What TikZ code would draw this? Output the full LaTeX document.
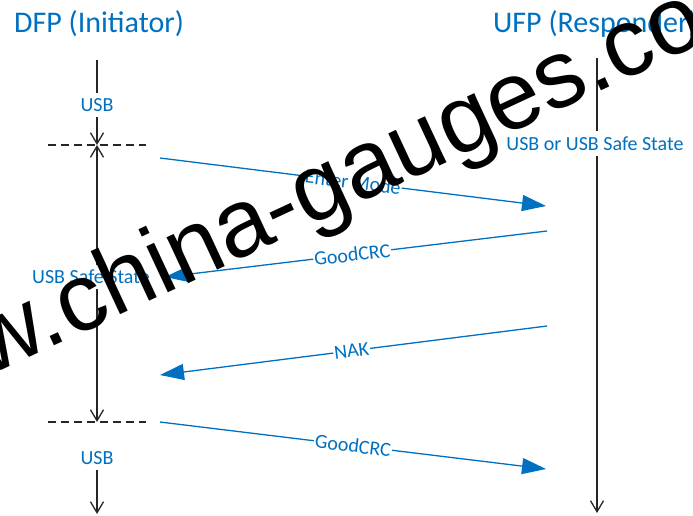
\documentclass[tikz,border=0pt]{standalone}
\usepackage{fontspec}
\setmainfont{Carlito}
\newfontfamily\wmfont{Liberation Sans}
\usepackage{xcolor}
\definecolor{msgblue}{HTML}{0070C0}
\usepackage{tikz}
\usetikzlibrary{positioning,arrows.meta}

\begin{document}
\begin{tikzpicture}[x=1pt, y=-1pt,
    title/.style={font=\fontsize{30}{36}\selectfont, text=msgblue, inner sep=0pt},
    state/.style={font=\fontsize{20}{24}\selectfont, text=msgblue, fill=white, inner xsep=1pt, inner ysep=5pt},
    lifeline/.style={draw=black!85, line width=1.3pt},
    barb/.style={-{Straight Barb[length=11pt, width=13pt]}},
    twobarb/.style={{Straight Barb[length=11pt, width=13pt]}-{Straight Barb[length=11pt, width=13pt]}},
    sep/.style={draw=black!85, line width=1.1pt, dash pattern=on 8pt off 5pt},
    msg/.style={draw=msgblue, line width=1.3pt, -{Triangle[length=24pt, width=16pt]}},
    msglabel/.style={font=\fontsize{20}{24}\selectfont, text=msgblue, fill=white, sloped, inner xsep=1pt, inner ysep=0pt},
    watermark/.style={font=\wmfont\fontsize{96}{100}\selectfont, text=black, inner sep=0pt}]
  \useasboundingbox (0,0) rectangle (693,515);

  % headings
  \node[title, anchor=base west] (dfp) at (14,32) {DFP (Initiator)};
  \node[title, anchor=base west] (ufp) at (493,32) {UFP (Responder)};

  % DFP lifeline
  \coordinate (ltop) at (97,60);
  \coordinate (lsep1) at (97,145);
  \coordinate (lsep2) at (97,422);
  \coordinate (lbot) at (97,514);
  \node[state] (lusb1) at (97,105) {USB};
  \node[state] (lusb2) at (97,458) {USB};
  \draw[lifeline] (ltop) -- (lusb1);
  \draw[lifeline, barb] (lusb1) -- (lsep1);
  \draw[lifeline, twobarb] (lsep1) -- (lsep2);
  \draw[lifeline, barb] (lusb2) -- (lbot);
  \node[state] (lsafe) at (91,277) {USB Safe State};

  % mode change markers
  \coordinate (sep1w) at (48,145);
  \coordinate (sep1e) at (146,145);
  \coordinate (sep2w) at (48,422);
  \coordinate (sep2e) at (146,422);
  \draw[sep] (sep1w) -- (sep1e);
  \draw[sep] (sep2w) -- (sep2e);

  % UFP lifeline
  \coordinate (rtop) at (597,58);
  \coordinate (rbot) at (597,513);
  \node[state] (rstate) at (595,143.5) {USB or USB Safe State};
  \draw[lifeline] (rtop) -- (rtop |- rstate.north);
  \draw[lifeline, barb] (rtop |- rstate.south) -- (rbot);

  % messages
  \coordinate (m1s) at (160,158);
  \coordinate (m1e) at (546,206);
  \coordinate (m2s) at (547,231);
  \coordinate (m2e) at (165,277);
  \coordinate (m3s) at (547,326);
  \coordinate (m3e) at (160,375);
  \coordinate (m4s) at (160,422);
  \coordinate (m4e) at (546,469);
  \draw[msg] (m1s) -- node[msglabel] {Enter Mode} (m1e);
  \draw[msg] (m2s) -- node[msglabel, pos=0.51] {GoodCRC} (m2e);
  \draw[msg] (m3s) -- node[msglabel, pos=0.505] {NAK} (m3e);
  \draw[msg] (m4s) -- node[msglabel] {GoodCRC} (m4e);

  % stamp across the chart
  \node[watermark, anchor=base west, rotate=25] (wm) at (-137,435) {www.china-gauges.com};
\end{tikzpicture}
\end{document}
